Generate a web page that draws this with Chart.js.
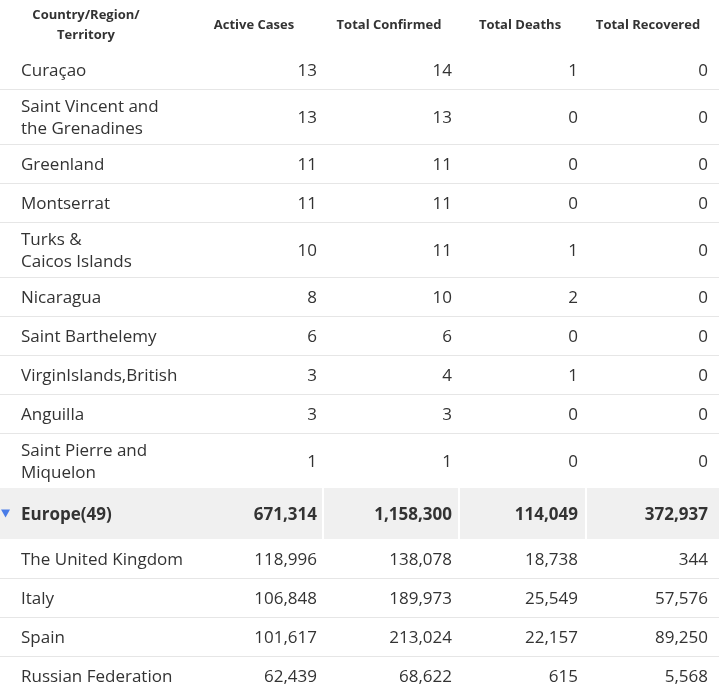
<!DOCTYPE html>
<html>
<head>
<meta charset="utf-8">
<script src="https://cdn.jsdelivr.net/npm/chart.js@4"></script>
<style>
  body { margin: 0; background: #fff; }
  #wrap { width: 719px; height: 694px; }
</style>
</head>
<body>
<div id="wrap"><canvas id="tbl" width="719" height="694"></canvas></div>
<script>
var headers = ['Country/Region/\nTerritory', 'Active Cases', 'Total Confirmed', 'Total Deaths', 'Total Recovered'];
var names = ['Curaçao', 'Saint Vincent and\nthe Grenadines', 'Greenland', 'Montserrat', 'Turks &\nCaicos Islands',
  'Nicaragua', 'Saint Barthelemy', 'VirginIslands,British', 'Anguilla', 'Saint Pierre and\nMiquelon',
  'Europe(49)', 'The United Kingdom', 'Italy', 'Spain', 'Russian Federation'];
var groupRow = [false, false, false, false, false, false, false, false, false, false, true, false, false, false, false];
var active = [13, 13, 11, 11, 10, 8, 6, 3, 3, 1, 671314, 118996, 106848, 101617, 62439];
var confirmed = [14, 13, 11, 11, 11, 10, 6, 4, 3, 1, 1158300, 138078, 189973, 213024, 68622];
var deaths = [1, 0, 0, 0, 1, 2, 0, 1, 0, 0, 114049, 18738, 25549, 22157, 615];
var recovered = [0, 0, 0, 0, 0, 0, 0, 0, 0, 0, 372937, 344, 57576, 89250, 5568];

// row boundaries in table units, from the number of text lines per row
var headerH = 50;
var bounds = [headerH];
names.forEach(function (n, i) {
  var h = groupRow[i] ? 51 : (n.indexOf('\n') >= 0 ? 55 : 39);
  bounds.push(bounds[i] + h);
});

var colRight = [0, 317, 452, 578, 708];
var headCenter = [86, 254, 389, 520, 648];
var fmt = function (v) { return v.toLocaleString('en-US'); };

var tablePlugin = {
  id: 'table',
  afterDraw: function (chart) {
    var ctx = chart.ctx, y = chart.scales.y;
    ctx.save();
    // header
    ctx.fillStyle = '#333';
    ctx.font = 'bold 13px "Open Sans", sans-serif';
    ctx.textAlign = 'center';
    ctx.textBaseline = 'middle';
    headers.forEach(function (h, c) {
      var lines = h.split('\n');
      var mid = y.getPixelForValue(headerH / 2);
      lines.forEach(function (l, k) {
        ctx.fillText(l, headCenter[c], mid + (k - (lines.length - 1) / 2) * 20);
      });
    });
    names.forEach(function (n, i) {
      var top = y.getPixelForValue(bounds[i]), bot = y.getPixelForValue(bounds[i + 1]);
      var mid = (top + bot) / 2;
      if (groupRow[i]) {
        ctx.fillStyle = '#f0f0f0';
        ctx.fillRect(0, top, 719, bot - top);
        ctx.fillStyle = '#fff';
        [322, 458, 585].forEach(function (x) { ctx.fillRect(x, top, 2, bot - top); });
        ctx.fillStyle = '#4a7de8';
        ctx.beginPath();
        ctx.moveTo(1, mid - 4); ctx.lineTo(10, mid - 4); ctx.lineTo(5.5, mid + 4); ctx.closePath();
        ctx.fill();
      } else if (i > 0 && !groupRow[i - 1]) {
        ctx.fillStyle = '#e6e6e6';
        ctx.fillRect(0, top, 719, 1);
      }
      ctx.fillStyle = '#333';
      ctx.font = (groupRow[i] ? 'bold ' : '') + '17px "Open Sans", sans-serif';
      ctx.textAlign = 'left';
      var lines = n.split('\n');
      lines.forEach(function (l, k) {
        ctx.fillText(l, 21, mid + 2 + (k - (lines.length - 1) / 2) * 22);
      });
      ctx.textAlign = 'right';
      [active, confirmed, deaths, recovered].forEach(function (arr, c) {
        ctx.fillText(fmt(arr[i]), colRight[c + 1], mid + 2);
      });
    });
    ctx.restore();
  }
};

new Chart(document.getElementById('tbl'), {
  type: 'scatter',
  data: { datasets: [{ data: [] }] },
  options: {
    responsive: false,
    animation: false,
    layout: { padding: 0 },
    plugins: { legend: { display: false }, tooltip: { enabled: false } },
    scales: {
      x: { type: 'linear', min: 0, max: 719, display: false },
      y: { type: 'linear', min: 0, max: 694, reverse: true, display: false }
    }
  },
  plugins: [tablePlugin]
});
</script>
</body>
</html>
